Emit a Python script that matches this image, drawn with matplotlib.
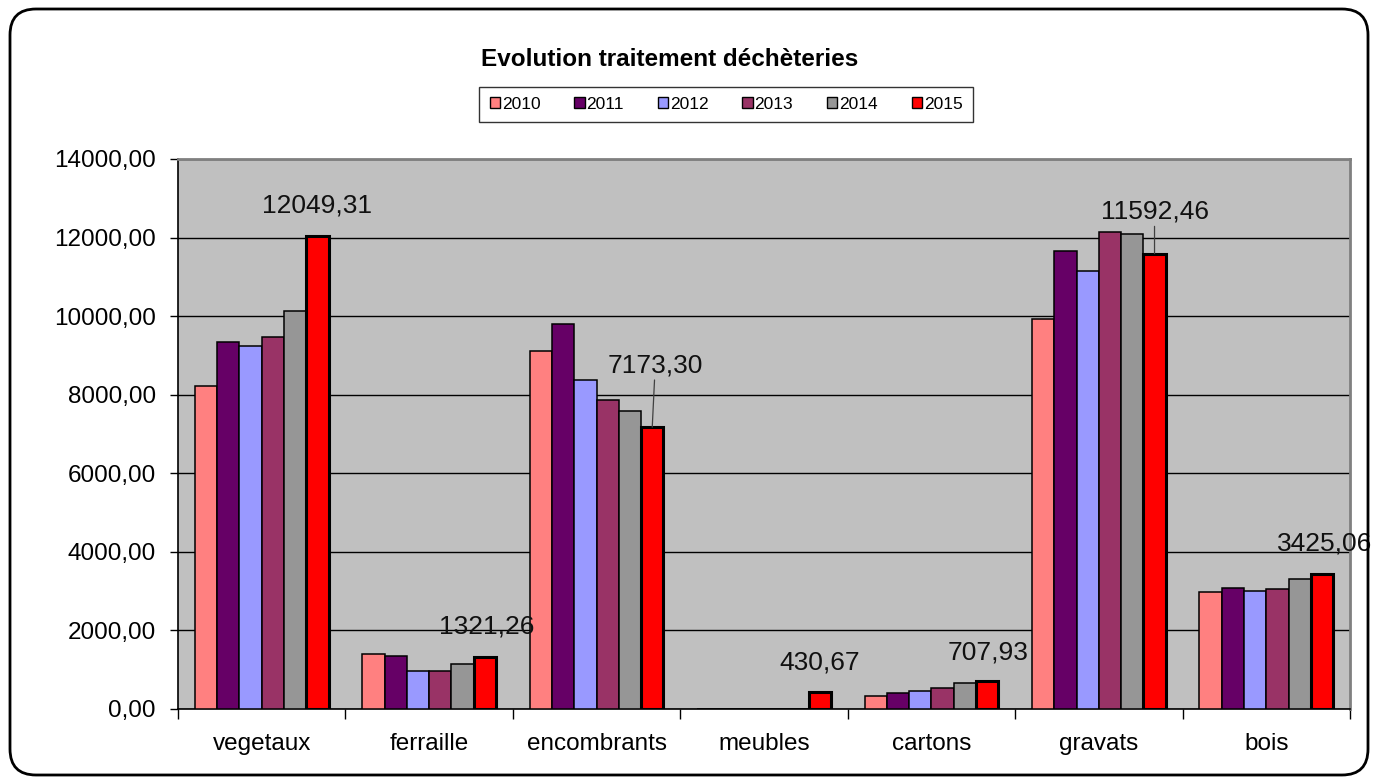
import matplotlib
matplotlib.use("Agg")
import matplotlib.pyplot as plt
import matplotlib.ticker as mticker
import matplotlib.transforms as mtransforms
from matplotlib.patches import Patch, FancyBboxPatch
from matplotlib import font_manager
import numpy as np

# ---------------------------------------------------------------------------
# Data (tonnes per waste stream and year)
# ---------------------------------------------------------------------------

categories = ["vegetaux", "ferraille", "encombrants", "meubles", "cartons", "gravats", "bois"]
years = ["2010", "2011", "2012", "2013", "2014", "2015"]

t2010 = [8220, 1400, 9110, 0, 340, 9930, 2970]
t2011 = [9340, 1360, 9810, 0, 400, 11650, 3070]
t2012 = [9240, 975, 8370, 0, 460, 11160, 3000]
t2013 = [9480, 970, 7860, 0, 525, 12140, 3045]
t2014 = [10120, 1135, 7580, 0, 650, 12080, 3320]
t2015 = [12049.31, 1321.26, 7173.30, 430.67, 707.93, 11592.46, 3425.06]

colors = ["#FF8080", "#660066", "#9999FF", "#993366", "#969696", "#FF0000"]

# label offsets (pixels) for the 2015 values; long ones get a leader line
label_offsets = [(0, 30), (2, 31), (3, 62), (0, 30), (1, 29), (0, 42), (3, 31)]


def fr(v, _=None):
    return f"{v:.2f}".replace(".", ",")


def pick_font(*names):
    available = {f.name for f in font_manager.fontManager.ttflist}
    for n in names:
        if n in available:
            return n
    return "DejaVu Sans"


main_font = pick_font("Liberation Sans", "Arial", "DejaVu Sans")
narrow_font = pick_font("Liberation Sans Narrow", "Liberation Sans", "DejaVu Sans")
label_size = 22 if narrow_font == "Liberation Sans Narrow" else 19
plt.rcParams["font.family"] = [main_font, "DejaVu Sans"]

W, H = 1378, 784
fig = plt.figure(figsize=(W / 100, H / 100), dpi=100)
fig.patch.set_facecolor("white")

ax = fig.add_axes([178 / W, 1 - 709 / H, (1350 - 178) / W, (709 - 159) / H])
ax.set_facecolor("#C0C0C0")

series = [t2010, t2011, t2012, t2013, t2014, t2015]
x = np.arange(len(categories))
bw = 0.133
for i, (vals, col) in enumerate(zip(series, colors)):
    lw = 2.2 if i == 5 else 1.1
    bars = ax.bar(x - 2.5 * bw + i * bw, vals, bw, color=col,
                  edgecolor="black", linewidth=lw, zorder=3, label=years[i])
    if i == 5:
        last_bars = bars

# value labels on the 2015 bars
for b, v, (dx, dy) in zip(last_bars, t2015, label_offsets):
    xc = b.get_x() + b.get_width() / 2
    arrow = None
    if dy > 40:
        arrow = dict(arrowstyle="-", color="#404040", lw=0.9,
                     shrinkA=0, shrinkB=0)
    ax.annotate(fr(v), xy=(xc, v), xytext=(dx, dy), textcoords="offset pixels",
                ha="center", va="center", fontsize=label_size, family=narrow_font,
                color="#111111", arrowprops=arrow, zorder=5,
                annotation_clip=False)

ax.set_xlim(-0.5, len(categories) - 0.5)
ax.set_ylim(0, 14000)
ax.yaxis.set_major_locator(mticker.MultipleLocator(2000))
ax.yaxis.set_major_formatter(mticker.FuncFormatter(fr))
ax.grid(axis="y", color="black", linewidth=1.0, zorder=1)
ax.set_axisbelow(True)

ax.set_xticks(x)
ax.set_xticklabels(categories)
ax.set_xticks(np.arange(-0.5, len(categories)), minor=True)
ax.tick_params(axis="x", which="major", length=0, pad=17, labelsize=17.5)
ax.tick_params(axis="x", which="minor", length=7, width=1, direction="out")
ax.tick_params(axis="y", length=6, width=1, direction="out", pad=10, labelsize=17.5)

for side in ("left", "bottom"):
    ax.spines[side].set_color("black")
    ax.spines[side].set_linewidth(1.2)
for side in ("top", "right"):
    ax.spines[side].set_color("#808080")
    ax.spines[side].set_linewidth(2)

fig.text(670 / W, 1 - 60 / H, "Evolution traitement déchèteries",
         ha="center", va="center", fontsize=17.5, fontweight="bold")

handles = [Patch(facecolor=c, edgecolor="black", linewidth=1) for c in colors]
leg = fig.legend(handles, years, loc="center", ncol=6,
                 bbox_to_anchor=(726 / W, 1 - 104.5 / H),
                 frameon=True, fancybox=False, edgecolor="black",
                 fontsize=12.5, handlelength=0.6, handleheight=0.6,
                 handletextpad=0.1, columnspacing=1.95,
                 borderpad=0.6, borderaxespad=0)
leg.get_frame().set_linewidth(1)

# rounded outer frame, drawn in pixel space
frame = FancyBboxPatch((10, 9), W - 20, H - 18,
                       boxstyle="round,pad=0,rounding_size=26",
                       transform=mtransforms.IdentityTransform(),
                       facecolor="none", edgecolor="black", linewidth=2)
fig.add_artist(frame)

fig.savefig("out.png", dpi=100)
